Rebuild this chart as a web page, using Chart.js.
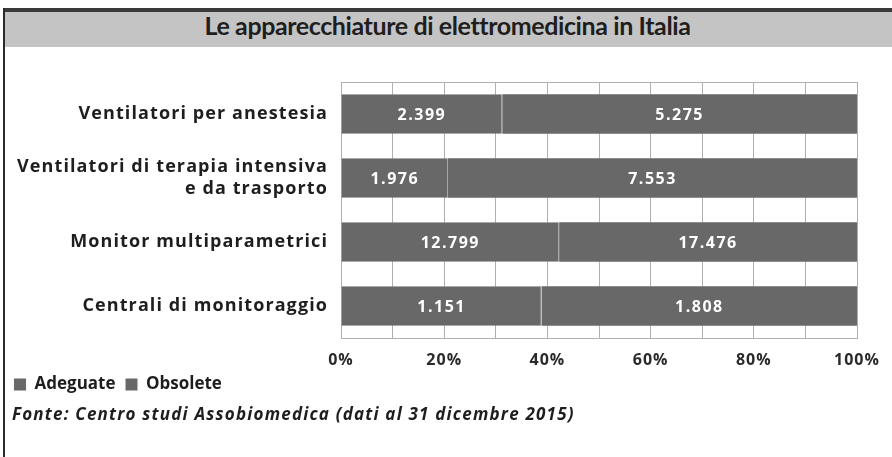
<!DOCTYPE html>
<html><head><meta charset="utf-8">
<script src="https://cdn.jsdelivr.net/npm/chart.js@4.4.1/dist/chart.umd.min.js"></script>
<style>
html,body{margin:0;padding:0;background:#fff;}
#wrap{position:relative;width:892px;height:457px;overflow:hidden;background:#fff;}
#frame{position:absolute;left:3px;top:8px;width:2px;height:449px;background:#2a2a2a;}
#band{position:absolute;left:3px;top:8px;right:0;height:35px;background:#c4c4c4;border-top:4px solid #3a3a3a;}
#title{position:absolute;left:3px;right:0;top:10px;text-align:center;font:700 25px Lato, sans-serif;color:#1e1e1e;letter-spacing:-0.4px;}
#src{position:absolute;left:12px;top:402px;font:italic 700 17px 'Open Sans', sans-serif;color:#1e1e1e;letter-spacing:1.2px;}
canvas{position:absolute;left:0;top:0;}
</style>
</head><body>
<div id="wrap">
<div id="band"></div>
<div id="frame"></div>
<div id="title">Le apparecchiature di elettromedicina in Italia</div>
<canvas id="c" width="892" height="457"></canvas>
<div id="src">Fonte: Centro studi Assobiomedica (dati al 31 dicembre 2015)</div>
</div>
<script>
const categories = [
  ['Ventilatori per anestesia'],
  ['Ventilatori di terapia intensiva', 'e da trasporto'],
  ['Monitor multiparametrici'],
  ['Centrali di monitoraggio']
];
const adeguate = [2399, 1976, 12799, 1151];
const obsolete = [5275, 7553, 17476, 1808];
const seriesNames = ['Adeguate', 'Obsolete'];
const tickLabels = ['0%', '20%', '40%', '60%', '80%', '100%'];

const totals = adeguate.map((a, i) => a + obsolete[i]);
const adeguatePct = adeguate.map((a, i) => a / totals[i] * 100);
const obsoletePct = obsolete.map((o, i) => o / totals[i] * 100);
const rawCounts = [adeguate, obsolete];

function fmt(n) { return String(n).replace(/\B(?=(\d{3})+(?!\d))/g, '.'); }

const FONT = "'Open Sans', sans-serif";
const BAR = '#686868';

const labelsPlugin = {
  id: 'segLabels',
  afterDatasetsDraw(chart) {
    const ctx = chart.ctx;
    ctx.save();
    ctx.fillStyle = '#ffffff';
    ctx.font = "bold 16px " + FONT;
    ctx.letterSpacing = '1.5px';
    ctx.textAlign = 'center';
    ctx.textBaseline = 'middle';
    chart.data.datasets.forEach((ds, di) => {
      const meta = chart.getDatasetMeta(di);
      meta.data.forEach((bar, i) => {
        const cx = (bar.x + bar.base) / 2;
        ctx.fillText(fmt(rawCounts[di][i]), cx, bar.y + 1);
      });
    });
    ctx.restore();
  }
};

const spacingPlugin = {
  id: 'tickSpacing',
  beforeDraw(chart) {
    [['y', '1.1px'], ['x', '1px']].forEach(([id, sp]) => {
      const s = chart.scales[id];
      if (s && !s._spaced) {
        const orig = s.drawLabels.bind(s);
        s.drawLabels = function (area) {
          this.ctx.save();
          this.ctx.letterSpacing = sp;
          orig(area);
          this.ctx.restore();
        };
        s._spaced = true;
      }
    });
  }
};

const boxPlugin = {
  id: 'boxLines',
  beforeDatasetsDraw(chart) {
    const a = chart.chartArea, ctx = chart.ctx;
    ctx.save();
    ctx.strokeStyle = '#b0b0b0';
    ctx.lineWidth = 1;
    ctx.beginPath();
    ctx.moveTo(a.left, a.top + 0.5);
    ctx.lineTo(a.right, a.top + 0.5);
    ctx.stroke();
    ctx.restore();
  }
};

new Chart(document.getElementById('c'), {
  type: 'bar',
  data: {
    labels: categories,
    datasets: [
      { label: seriesNames[0], data: adeguatePct, backgroundColor: BAR,
        borderColor: '#a6a6a6', borderWidth: {left: 0, top: 0, bottom: 0, right: 1}, borderSkipped: false,
        barPercentage: 0.62, categoryPercentage: 1.0 },
      { label: seriesNames[1], data: obsoletePct, backgroundColor: BAR,
        borderWidth: 0, barPercentage: 0.62, categoryPercentage: 1.0 }
    ]
  },
  options: {
    indexAxis: 'y',
    responsive: false,
    animation: false,
    layout: { padding: { left: 4, top: 82, right: 35, bottom: 54 } },
    scales: {
      x: {
        stacked: true, min: 0, max: 100,
        grid: { color: '#b0b0b0', lineWidth: 1, drawTicks: false },
        border: { color: '#b0b0b0' },
        ticks: {
          stepSize: 10, autoSkip: false, maxRotation: 0, padding: 13,
          color: '#2a2a2a', font: { family: FONT, weight: 'bold', size: 16 },
          callback: (v) => (v % 20 === 0 ? tickLabels[v / 20] : '')
        },
        afterFit: (s) => { s.height = 28; }
      },
      y: {
        stacked: true,
        grid: { display: false, drawTicks: false },
        border: { display: false },
        ticks: { padding: 13, color: '#1e1e1e', font: { family: FONT, weight: 'bold', size: 18, lineHeight: 1.2 } },
        afterFit: (s) => { s.width = 337; }
      }
    },
    plugins: {
      legend: {
        position: 'bottom', align: 'start',
        labels: { boxWidth: 12, boxHeight: 12, padding: 10, color: '#1e1e1e',
          font: { family: FONT, weight: 'bold', size: 17 } }
      },
      tooltip: { enabled: false }
    }
  },
  plugins: [labelsPlugin, boxPlugin, spacingPlugin]
});
</script>
</body></html>
